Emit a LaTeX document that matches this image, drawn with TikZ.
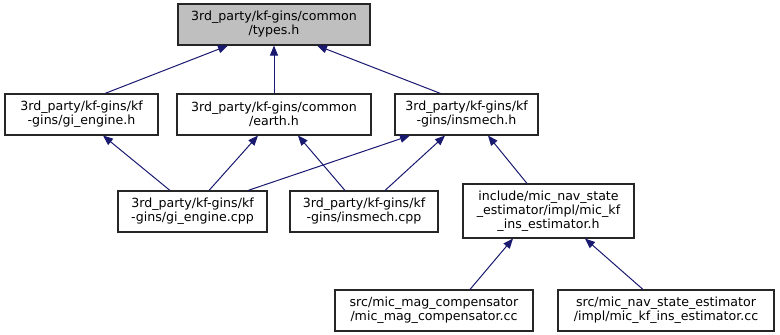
\documentclass[tikz,border=0pt]{standalone}
\usepackage{fontspec}
\setmainfont{DejaVu Sans}
\usetikzlibrary{arrows.meta}
\definecolor{edgeblue}{HTML}{191970}
\definecolor{rootfill}{HTML}{BFBFBF}
\tikzset{
  file/.style={draw=black!85, line width=1.1pt, fill=white, inner sep=0pt,
    align=center, font=\fontsize{12.6}{14}\selectfont},
  root/.style={file, fill=rootfill},
  dep/.style={draw=edgeblue, line width=1pt,
    -{Triangle[length=10pt,width=8pt]}},
}
\begin{document}
\begin{tikzpicture}[x=1pt,y=-1pt]
\useasboundingbox (0,0) rectangle (780,335);
% header at the top of the graph
\node[root, minimum width=192pt, minimum height=41pt] (types) at (274,24.5)
  {3rd\_party/kf-gins/common\\/types.h};
% direct includers
\node[file, minimum width=153pt, minimum height=41pt] (gih) at (81.5,114.5)
  {3rd\_party/kf-gins/kf\\-gins/gi\_engine.h};
\node[file, minimum width=194pt, minimum height=41pt] (earth) at (274,114.5)
  {3rd\_party/kf-gins/common\\/earth.h};
\node[file, minimum width=143pt, minimum height=41pt] (insh) at (466.5,114.5)
  {3rd\_party/kf-gins/kf\\-gins/insmech.h};
% second level
\node[file, minimum width=149pt, minimum height=41pt] (gicpp) at (192.5,211.5)
  {3rd\_party/kf-gins/kf\\-gins/gi\_engine.cpp};
\node[file, minimum width=148pt, minimum height=41pt] (inscpp) at (364,211.5)
  {3rd\_party/kf-gins/kf\\-gins/insmech.cpp};
\node[file, minimum width=171pt, minimum height=54pt] (kfh) at (548.5,211)
  {include/mic\_nav\_state\\\_estimator/impl/mic\_kf\\\_ins\_estimator.h};
% third level
\node[file, minimum width=198pt, minimum height=41pt] (magcc) at (434,310.5)
  {src/mic\_mag\_compensator\\/mic\_mag\_compensator.cc};
\node[file, minimum width=216pt, minimum height=41pt] (kfcc) at (666,310.5)
  {src/mic\_nav\_state\_estimator\\/impl/mic\_kf\_ins\_estimator.cc};
% include edges, arrow on the included file
\draw[dep] ([xshift=23.5pt]gih.north) -- ([xshift=-46pt]types.south);
\draw[dep] (earth.north) -- (types.south);
\draw[dep] ([xshift=-26pt]insh.north) -- ([xshift=43pt]types.south);
\draw[dep] ([xshift=-22.5pt]gicpp.north) -- ([xshift=21.5pt]gih.south);
\draw[dep] ([xshift=16.5pt]gicpp.north) -- ([xshift=-16pt]earth.south);
\draw[dep] ([xshift=55.5pt]gicpp.north) -- ([xshift=-56.5pt]insh.south);
\draw[dep] ([xshift=-19pt]inscpp.north) -- ([xshift=24pt]earth.south);
\draw[dep] ([xshift=21pt]inscpp.north) -- ([xshift=-21.5pt]insh.south);
\draw[dep] ([xshift=-21.5pt]kfh.north) -- ([xshift=21.5pt]insh.south);
\draw[dep] ([xshift=36pt]magcc.north) -- ([xshift=-35.5pt]kfh.south);
\draw[dep] ([xshift=-23pt]kfcc.north) -- ([xshift=36.5pt]kfh.south);
\end{tikzpicture}
\end{document}
